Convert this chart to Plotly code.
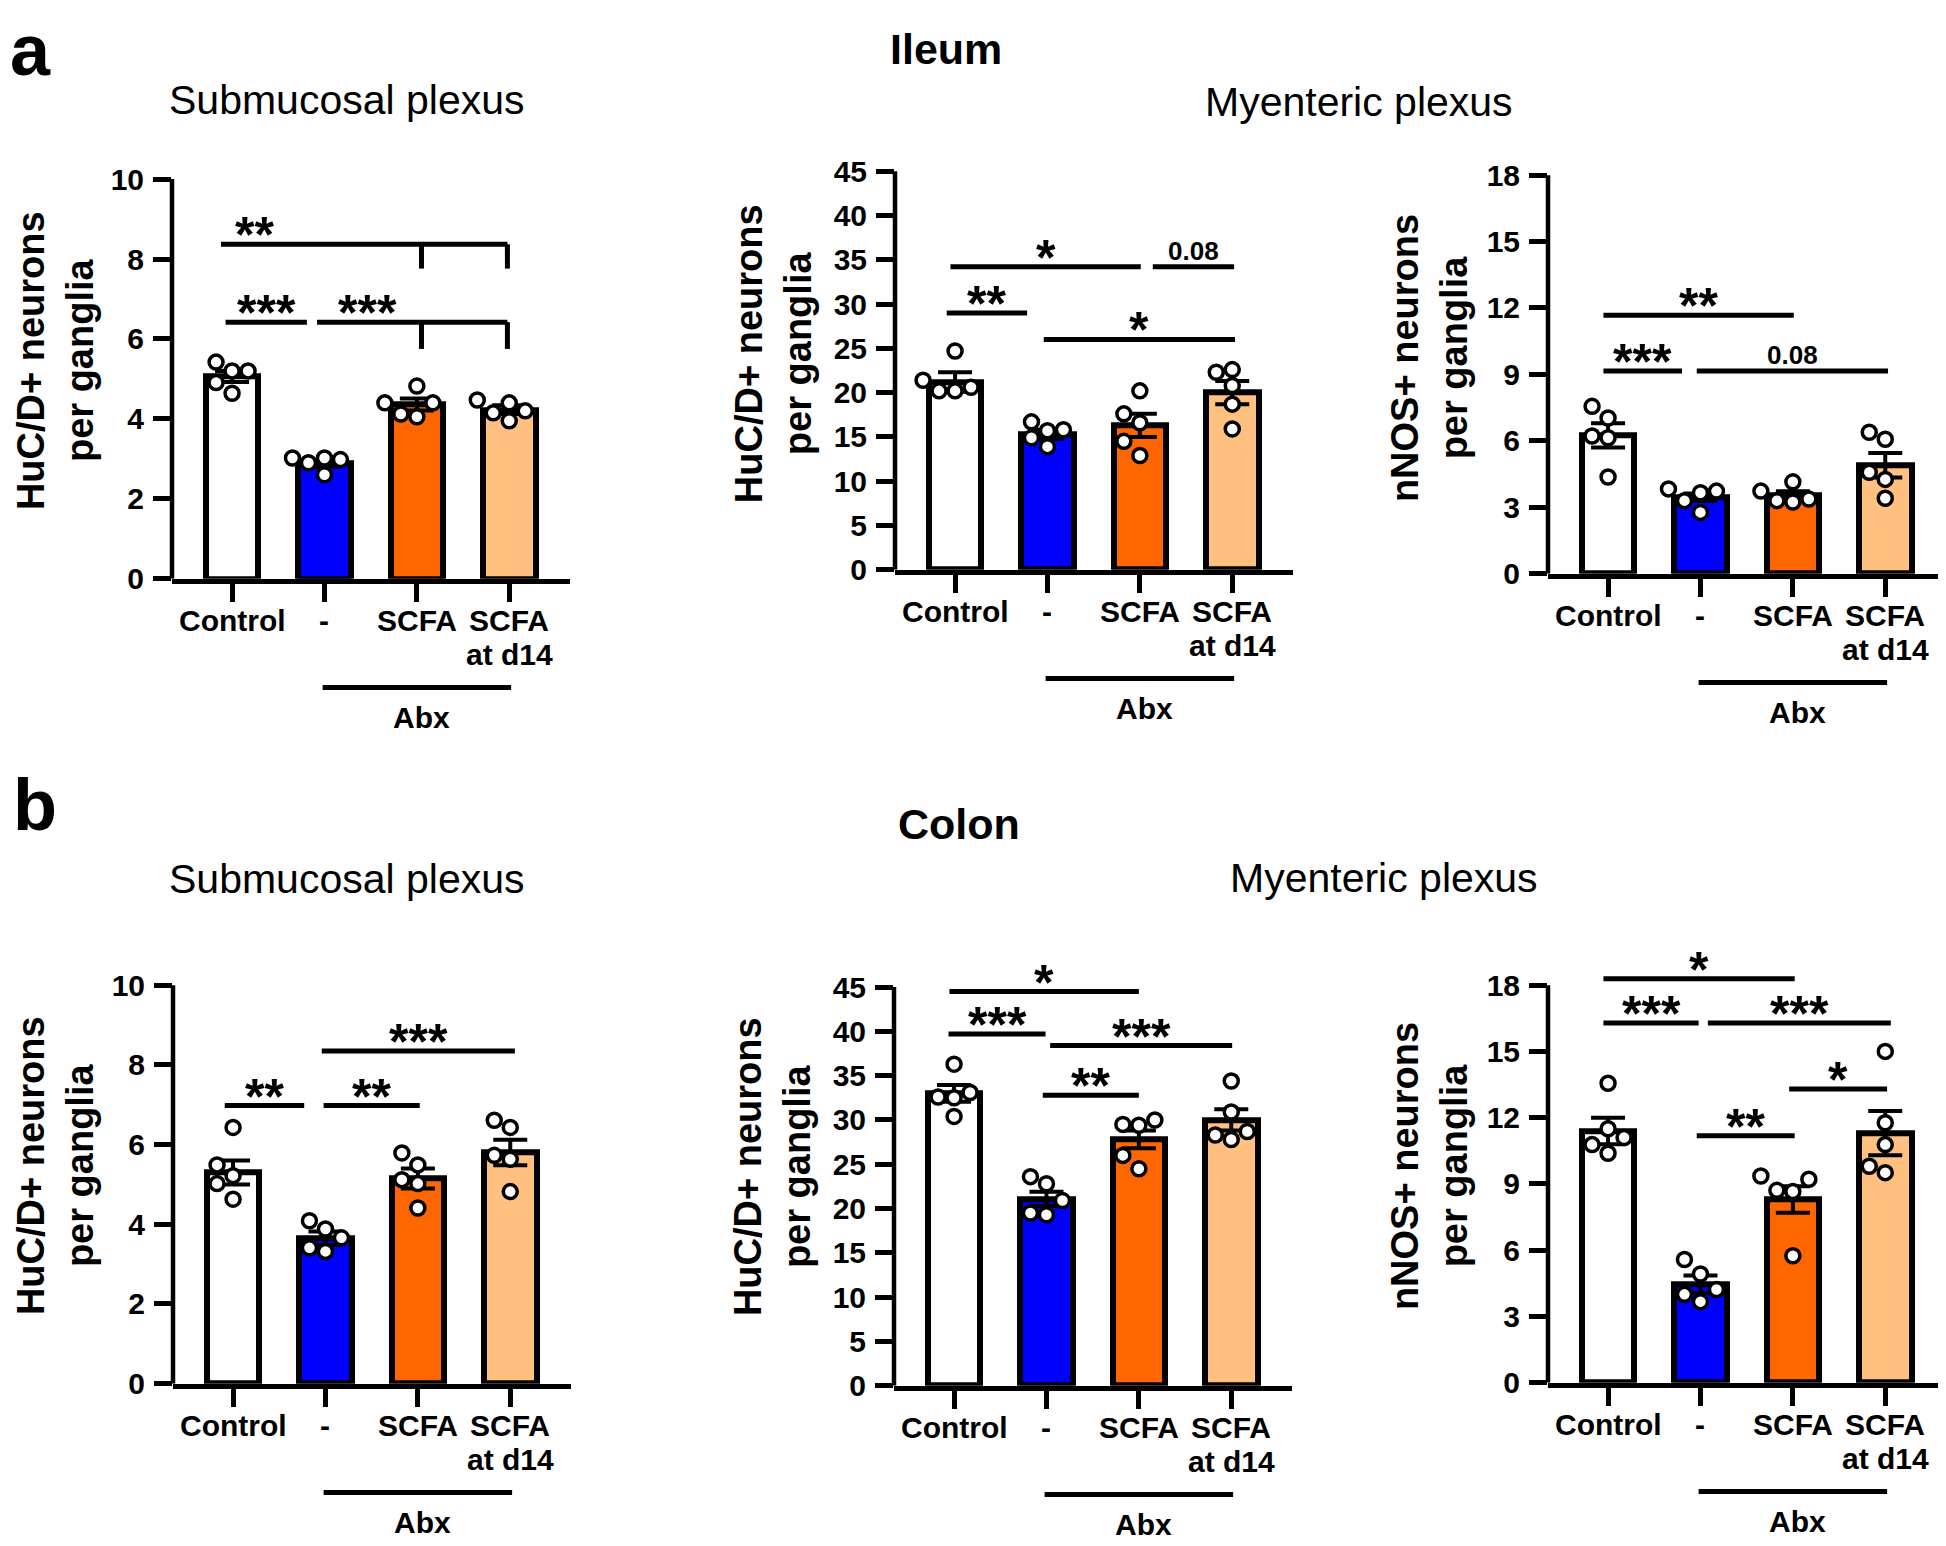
import plotly.graph_objects as go
import numpy as np

W, H = 1946, 1546
FONT = "Liberation Sans, Arial, Helvetica, sans-serif"

# ---------------- data ----------------
groups = ["Control", "-", "SCFA", "SCFA at d14"]
group_label_lines = [["Control"], ["-"], ["SCFA"], ["SCFA", "at d14"]]
bar_colors = ["#FFFFFF", "#0000FF", "#FF6600", "#FFC080"]

# Ileum - submucosal plexus, HuC/D+
ileum_sub_huc_mean = [5.06, 2.88, 4.36, 4.23]
ileum_sub_huc_sem = [0.14, 0.08, 0.15, 0.11]
ileum_sub_huc_points = [[4.64, 4.91, 5.20, 5.20, 5.42],
                        [2.60, 2.90, 2.98, 3.02, 3.02],
                        [4.05, 4.12, 4.40, 4.40, 4.82],
                        [3.95, 4.15, 4.20, 4.40, 4.47]]
# Ileum - myenteric plexus, HuC/D+
ileum_my_huc_mean = [21.2, 15.3, 16.3, 20.0]
ileum_my_huc_sem = [1.1, 0.5, 1.3, 1.3]
ileum_my_huc_points = [[24.7, 20.2, 21.4, 20.2, 20.6],
                       [15.8, 13.9, 15.7, 16.7, 14.9],
                       [20.2, 16.6, 17.6, 12.9, 14.5],
                       [22.6, 22.3, 20.8, 18.7, 15.9]]
# Ileum - myenteric plexus, nNOS+
ileum_my_nnos_mean = [6.25, 3.45, 3.55, 4.90]
ileum_my_nnos_sem = [0.55, 0.17, 0.17, 0.55]
ileum_my_nnos_points = [[7.56, 7.03, 6.22, 6.14, 4.37],
                        [3.66, 3.83, 3.73, 3.30, 2.77],
                        [4.15, 3.73, 3.24, 3.30, 3.37],
                        [6.39, 6.07, 4.58, 4.26, 3.41]]
# Colon - submucosal plexus, HuC/D+
colon_sub_huc_mean = [5.30, 3.65, 5.15, 5.80]
colon_sub_huc_sem = [0.30, 0.17, 0.25, 0.32]
colon_sub_huc_points = [[6.43, 5.22, 5.49, 5.02, 4.63],
                        [4.09, 3.88, 3.66, 3.32, 3.41],
                        [5.79, 5.49, 5.12, 5.02, 4.41],
                        [6.61, 6.43, 5.73, 5.63, 4.82]]
# Colon - myenteric plexus, HuC/D+
colon_my_huc_mean = [33.0, 21.1, 27.8, 30.0]
colon_my_huc_sem = [0.95, 0.8, 1.0, 1.2]
colon_my_huc_points = [[36.3, 33.1, 32.6, 32.5, 30.4],
                       [23.6, 22.8, 20.9, 19.3, 19.5],
                       [29.5, 30.0, 29.4, 26.0, 24.5],
                       [34.4, 30.9, 27.8, 28.7, 28.3]]
# Colon - myenteric plexus, nNOS+
colon_my_nnos_mean = [11.4, 4.45, 8.3, 11.3]
colon_my_nnos_sem = [0.6, 0.4, 0.6, 1.0]
colon_my_nnos_points = [[13.56, 11.5, 11.1, 10.39, 10.78],
                        [5.58, 4.92, 4.22, 3.67, 4.00],
                        [9.36, 9.21, 8.71, 8.66, 5.75],
                        [15.0, 11.77, 10.78, 9.51, 9.80]]

# significance brackets: (from, to, level, label[, label x, drop positions, drop end])
ileum_sub_huc_sig = [(-0.12, 2.98, 8.37, "**", 0.24, [2.05, 2.98], 7.76),
                     (-0.07, 0.81, 6.42, "***"),
                     (0.92, 2.98, 6.42, "***", 1.47, [2.05, 2.98], 5.75)]
ileum_my_huc_sig = [(-0.05, 2.01, 34.2, "*"), (2.14, 3.02, 34.2, "0.08"),
                    (-0.09, 0.78, 29.0, "**"), (0.96, 3.03, 26.0, "*")]
ileum_my_nnos_sig = [(-0.05, 2.01, 11.67, "**"), (-0.05, 0.80, 9.16, "***"),
                     (0.96, 3.03, 9.16, "0.08")]
colon_sub_huc_sig = [(0.96, 3.05, 8.35, "***"), (-0.09, 0.77, 6.98, "**"),
                     (0.98, 2.02, 6.98, "**")]
colon_my_huc_sig = [(-0.05, 2.00, 44.5, "*"), (-0.06, 0.99, 39.7, "***"),
                    (1.04, 3.01, 38.4, "***"), (0.96, 2.00, 32.8, "**")]
colon_my_nnos_sig = [(-0.05, 2.02, 18.29, "*"), (-0.05, 0.98, 16.29, "***"),
                     (1.08, 3.06, 16.29, "***"), (1.96, 3.02, 13.3, "*"),
                     (0.96, 2.02, 11.18, "**")]

ticks_10 = [0, 2, 4, 6, 8, 10]
ticks_45 = [0, 5, 10, 15, 20, 25, 30, 35, 40, 45]
ticks_18 = [0, 3, 6, 9, 12, 15, 18]
huc_title = ["HuC/D+ neurons", "per ganglia"]
nnos_title = ["nNOS+ neurons", "per ganglia"]

# ---------------- layout geometry (pixels) ----------------
panels = [
    dict(mean=ileum_sub_huc_mean, sem=ileum_sub_huc_sem, pts=ileum_sub_huc_points,
         sig=ileum_sub_huc_sig, yt=ticks_10, title=huc_title,
         ax=164, zero=577, top=173, tpos=(47, 357)),
    dict(mean=ileum_my_huc_mean, sem=ileum_my_huc_sem, pts=ileum_my_huc_points,
         sig=ileum_my_huc_sig, yt=ticks_45, title=huc_title,
         ax=887, zero=568, top=165, tpos=(765, 350)),
    dict(mean=ileum_my_nnos_mean, sem=ileum_my_nnos_sem, pts=ileum_my_nnos_points,
         sig=ileum_my_nnos_sig, yt=ticks_18, title=nnos_title,
         ax=1540, zero=572, top=169, tpos=(1421, 354)),
    dict(mean=colon_sub_huc_mean, sem=colon_sub_huc_sem, pts=colon_sub_huc_points,
         sig=colon_sub_huc_sig, yt=ticks_10, title=huc_title,
         ax=165, zero=1391, top=988, tpos=(47, 1171)),
    dict(mean=colon_my_huc_mean, sem=colon_my_huc_sem, pts=colon_my_huc_points,
         sig=colon_my_huc_sig, yt=ticks_45, title=huc_title,
         ax=886, zero=1393, top=990, tpos=(764, 1172)),
    dict(mean=colon_my_nnos_mean, sem=colon_my_nnos_sem, pts=colon_my_nnos_points,
         sig=colon_my_nnos_sig, yt=ticks_18, title=nnos_title,
         ax=1540, zero=1390, top=988, tpos=(1421, 1171)),
]

XSTEP = 92.4          # px per category
XLEFT, XRIGHT = -0.65, 3.66
EXT = 1.08


def px_x(x):
    return x / W


def px_y(y):
    return 1 - y / H


def swarm(values, ppu_y, step=16.0):
    """simple beeswarm: offsets (category units) so points do not pile up."""
    order = np.argsort(values, kind="stable")
    placed, offs = [], [0.0] * len(values)
    for i in order:
        yv = values[i] * ppu_y
        for k in [0, -1, 1, -2, 2, -3, 3]:
            dx = k * step
            if all((dx - a) ** 2 + (yv - b) ** 2 >= step ** 2 - 1e-6 for a, b in placed):
                break
        placed.append((dx, yv))
        offs[i] = dx / XSTEP
    return offs


fig = go.Figure()
shapes, annotations = [], []
layout_axes = {}
black = "black"

for n, p in enumerate(panels, start=1):
    sfx = "" if n == 1 else str(n)
    xa, ya = "x" + sfx, "y" + sfx
    ytop = p["yt"][-1]
    ppu = (p["zero"] - p["top"]) / ytop
    ymax = ytop * EXT
    x0px = p["ax"] - (0.65 + XLEFT) * XSTEP
    dom_x = [px_x(x0px), px_x(x0px + (XRIGHT - XLEFT) * XSTEP)]
    dom_y = [px_y(p["zero"]), px_y(p["zero"] - ymax * ppu)]

    fig.add_trace(go.Bar(
        x=list(range(len(groups))), y=p["mean"], width=0.57,
        marker=dict(color=bar_colors, line=dict(color=black, width=6)),
        error_y=dict(type="data", array=p["sem"], visible=True, color=black,
                     thickness=4, width=17),
        xaxis=xa, yaxis=ya, hoverinfo="skip"))

    xs, ys = [], []
    for gi, vals in enumerate(p["pts"]):
        offs = swarm(vals, ppu)
        xs += [gi + o for o in offs]
        ys += vals
    fig.add_trace(go.Scatter(
        x=xs, y=ys, mode="markers", cliponaxis=False,
        marker=dict(size=14, color="white", line=dict(color=black, width=3.5)),
        xaxis=xa, yaxis=ya, hoverinfo="skip"))

    layout_axes["xaxis" + sfx] = dict(
        domain=dom_x, range=[XLEFT, XRIGHT], anchor=ya,
        tickvals=list(range(len(groups))), showticklabels=False,
        ticks="outside", ticklen=18, tickwidth=4.5, tickcolor=black,
        showline=True, linewidth=5, linecolor=black,
        showgrid=False, zeroline=False, fixedrange=True)
    layout_axes["yaxis" + sfx] = dict(
        domain=dom_y, range=[0, ymax], anchor=xa,
        tickvals=p["yt"], ticktext=[str(v) for v in p["yt"]],
        ticks="outside", ticklen=18, tickwidth=4.5, tickcolor=black,
        ticklabelstandoff=3,
        tickfont=dict(family=FONT, size=30, color=black, weight="bold"),
        showline=False, showgrid=False, zeroline=False, fixedrange=True)

    # y axis line up to top tick
    shapes.append(dict(type="line", xref=xa + " domain", yref=ya, x0=0, x1=0,
                       y0=0, y1=ytop, line=dict(color=black, width=4.5)))

    # significance brackets
    for b in p["sig"]:
        x0, x1, lev, lab = b[:4]
        lx = b[4] if len(b) > 4 else (x0 + x1) / 2
        shapes.append(dict(type="line", xref=xa, yref=ya, x0=x0, x1=x1,
                           y0=lev, y1=lev, line=dict(color=black, width=5)))
        if len(b) > 5:
            for dxp in b[5]:
                shapes.append(dict(type="line", xref=xa, yref=ya, x0=dxp, x1=dxp,
                                   y0=lev, y1=b[6], line=dict(color=black, width=5)))
        star = lab.startswith("*")
        annotations.append(dict(
            x=lx, y=lev, xref=xa, yref=ya, text=lab, showarrow=False,
            xanchor="center", yanchor="middle", yshift=9 if star else 16,
            font=dict(family=FONT, size=50 if star else 26, color=black, weight="bold")))

    # category labels
    for gi, lines in enumerate(group_label_lines):
        for k, t in enumerate(lines):
            annotations.append(dict(
                x=gi, y=px_y(p["zero"] + 42 + 35 * k), xref=xa, yref="paper",
                text=t, showarrow=False, xanchor="center", yanchor="middle",
                font=dict(family=FONT, size=30, color=black, weight="bold")))
    # Abx bracket
    shapes.append(dict(type="line", xref=xa, yref="paper", x0=0.98, x1=3.02,
                       y0=px_y(p["zero"] + 110), y1=px_y(p["zero"] + 110),
                       line=dict(color=black, width=5)))
    annotations.append(dict(
        x=2.05, y=px_y(p["zero"] + 140), xref=xa, yref="paper", text="Abx",
        showarrow=False, xanchor="center", yanchor="middle",
        font=dict(family=FONT, size=30, color=black, weight="bold")))
    # y title
    annotations.append(dict(
        x=px_x(p["tpos"][0]), y=px_y(p["tpos"][1]), xref="paper", yref="paper",
        text="<br>".join(p["title"]), textangle=-90, showarrow=False,
        xanchor="center", yanchor="middle",
        font=dict(family=FONT, size=38, color=black, weight="bold")))

# panel letters
annotations.append(dict(x=px_x(22), y=1.0, xref="paper", yref="paper", text="a",
                        showarrow=False, xanchor="center", yanchor="top",
                        font=dict(family=FONT, size=72, color=black, weight="bold")))
annotations.append(dict(x=px_x(27), y=px_y(806), xref="paper", yref="paper", text="b",
                        showarrow=False, xanchor="center", yanchor="middle",
                        font=dict(family=FONT, size=72, color=black, weight="bold")))
# headings
headings = [
    ("Ileum", 938, 41, 43, "bold"), ("Colon", 951, 825, 43, "bold"),
    ("Submucosal plexus", 339, 93, 41, "normal"),
    ("Myenteric plexus", 1351, 95, 41, "normal"),
    ("Submucosal plexus", 339, 881, 41, "normal"),
    ("Myenteric plexus", 1376, 880, 41, "normal"),
]
for t, x, y, s, w in headings:
    annotations.append(dict(
        x=px_x(x), y=px_y(y), xref="paper", yref="paper", text=t,
        showarrow=False, xanchor="center", yanchor="middle",
        font=dict(family=FONT, size=s, color=black, weight=w)))

fig.update_layout(
    width=W, height=H, margin=dict(l=0, r=0, t=0, b=0),
    paper_bgcolor="white", plot_bgcolor="rgba(0,0,0,0)",
    showlegend=False, bargap=0, shapes=shapes, annotations=annotations,
    font=dict(family=FONT, color=black),
    **layout_axes)

fig.write_html("out.html")
